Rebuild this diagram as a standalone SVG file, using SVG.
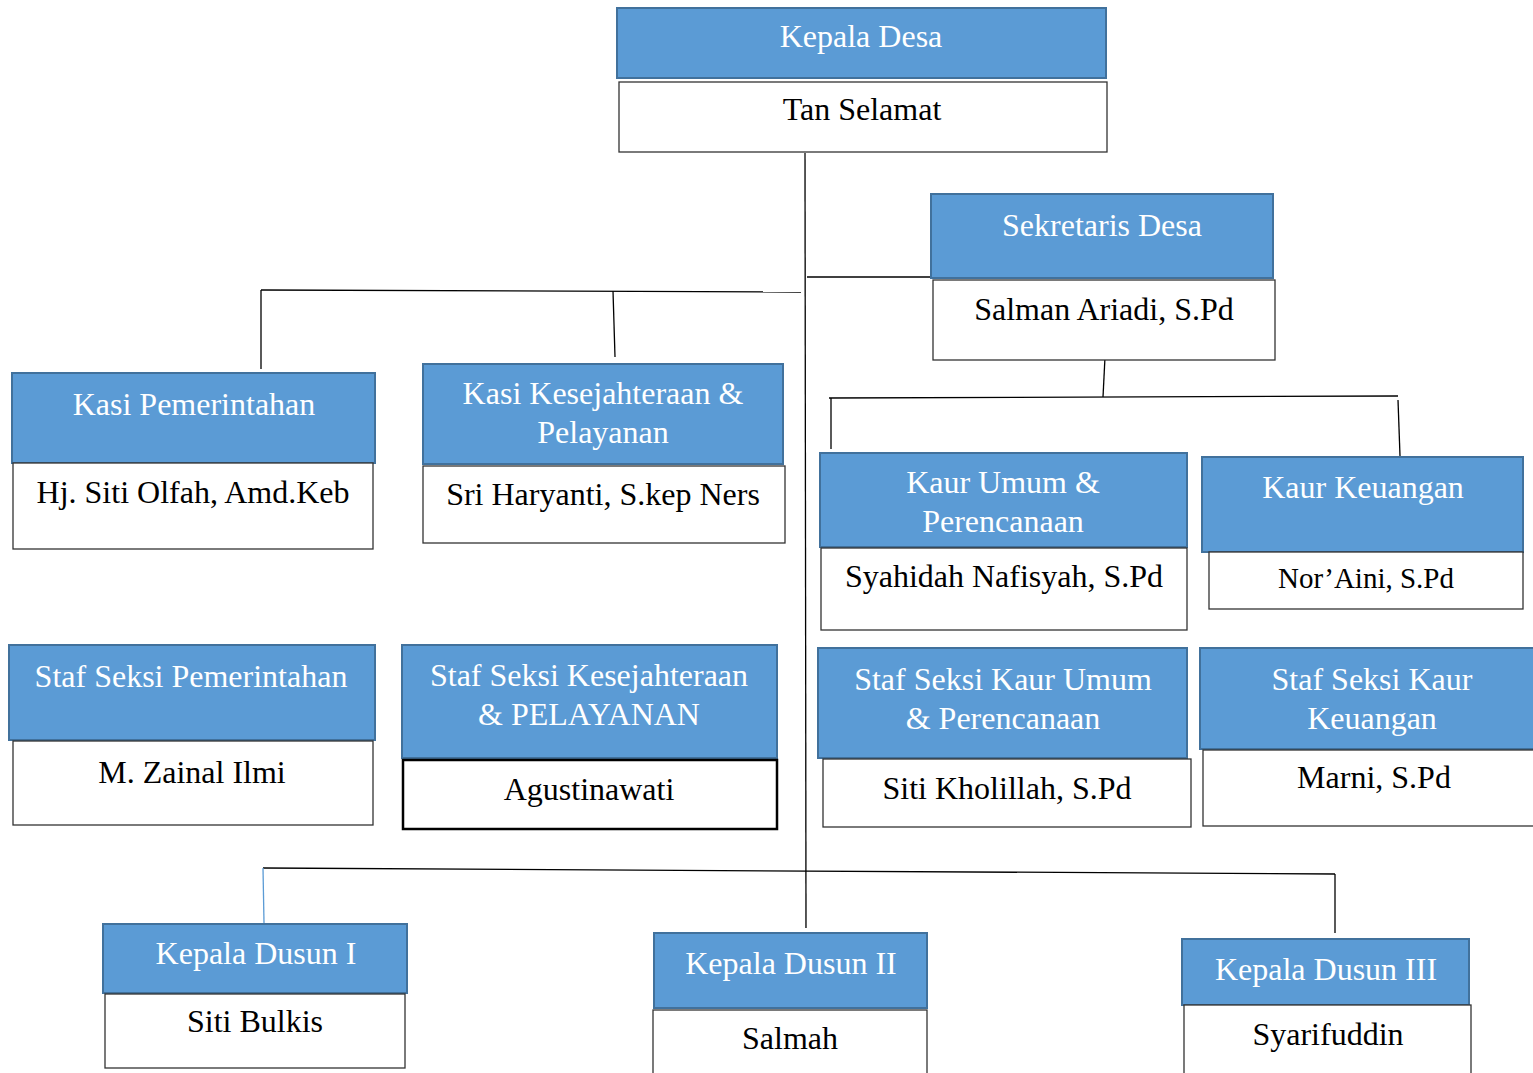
<svg xmlns="http://www.w3.org/2000/svg" width="1533" height="1073" viewBox="0 0 1533 1073">
<style>
.h{fill:#5b9bd5;stroke:#41719c;stroke-width:2}
.n{fill:#fff;stroke:#333;stroke-width:1.3}
.nb{fill:#fff;stroke:#000;stroke-width:2.5}
text{font-family:"Liberation Serif","Times New Roman",serif;font-size:32px;text-anchor:middle}
.t{fill:#fff}
.p{fill:#000}
.c{fill:none;stroke:#000;stroke-width:1.3}
</style>
<rect width="1533" height="1073" fill="#fff"/>
<g id="connectors">
<line class="c" x1="805" y1="153" x2="806" y2="928"/>
<line class="c" x1="807" y1="277" x2="931" y2="277"/>
<line class="c" x1="261" y1="290" x2="801" y2="292"/>
<line class="c" x1="261" y1="290" x2="261" y2="369"/>
<line class="c" x1="613" y1="291" x2="615" y2="357"/>
<line class="c" x1="1105" y1="357" x2="1103" y2="397"/>
<line class="c" x1="829" y1="398" x2="1398" y2="396"/>
<line class="c" x1="831" y1="398" x2="831" y2="449"/>
<line class="c" x1="1398" y1="400" x2="1400" y2="456"/>
<line class="c" x1="263" y1="868" x2="1335" y2="874"/>
<line x1="263" y1="868" x2="264" y2="923" stroke="#5b9bd5" stroke-width="1.3"/>
<line class="c" x1="1335" y1="874" x2="1335" y2="933"/>
</g>
<g id="kepala-desa">
<rect class="h" x="617" y="8" width="489" height="70"/>
<rect class="n" x="619" y="82" width="488" height="70"/>
<text class="t" x="861" y="47">Kepala Desa</text>
<text class="p" x="862" y="120">Tan Selamat</text>
</g>
<g id="sekretaris-desa">
<rect class="h" x="931" y="194" width="342" height="84"/>
<rect class="n" x="933" y="280" width="342" height="80"/>
<text class="t" x="1102" y="236">Sekretaris Desa</text>
<text class="p" x="1104" y="320">Salman Ariadi, S.Pd</text>
</g>
<g id="kasi-pemerintahan">
<rect class="h" x="12" y="373" width="363" height="90"/>
<rect class="n" x="13" y="463" width="360" height="86"/>
<text class="t" x="194" y="415">Kasi Pemerintahan</text>
<text class="p" x="193" y="503">Hj. Siti Olfah, Amd.Keb</text>
</g>
<g id="kasi-kesejahteraan">
<rect class="h" x="423" y="364" width="360" height="100"/>
<rect class="n" x="423" y="466" width="362" height="77"/>
<text class="t" x="603" y="404">Kasi Kesejahteraan &amp;</text>
<text class="t" x="603" y="443">Pelayanan</text>
<text class="p" x="603" y="505">Sri Haryanti, S.kep Ners</text>
</g>
<g id="kaur-umum">
<rect class="h" x="820" y="453" width="367" height="94"/>
<rect class="n" x="821" y="548" width="366" height="82"/>
<text class="t" x="1003" y="493">Kaur Umum &amp;</text>
<text class="t" x="1003" y="532">Perencanaan</text>
<text class="p" x="1004" y="587">Syahidah Nafisyah, S.Pd</text>
</g>
<g id="kaur-keuangan">
<rect class="h" x="1202" y="457" width="321" height="95"/>
<rect class="n" x="1209" y="552" width="314" height="57"/>
<text class="t" x="1363" y="498">Kaur Keuangan</text>
<text class="p" x="1366" y="588" style="font-size:29px">Nor’Aini, S.Pd</text>
</g>
<g id="staf-pemerintahan">
<rect class="h" x="9" y="645" width="366" height="95"/>
<rect class="n" x="13" y="741" width="360" height="84"/>
<text class="t" x="191" y="687">Staf Seksi Pemerintahan</text>
<text class="p" x="192" y="783">M. Zainal Ilmi</text>
</g>
<g id="staf-kesejahteraan">
<rect class="h" x="402" y="645" width="375" height="113"/>
<rect class="nb" x="403" y="760" width="374" height="69"/>
<text class="t" x="589" y="686">Staf Seksi Kesejahteraan</text>
<text class="t" x="589" y="725">&amp; PELAYANAN</text>
<text class="p" x="589" y="800">Agustinawati</text>
</g>
<g id="staf-kaur-umum">
<rect class="h" x="818" y="648" width="369" height="110"/>
<rect class="n" x="823" y="759" width="368" height="68"/>
<text class="t" x="1003" y="690">Staf Seksi Kaur Umum</text>
<text class="t" x="1003" y="729">&amp; Perencanaan</text>
<text class="p" x="1007" y="799">Siti Kholillah, S.Pd</text>
</g>
<g id="staf-kaur-keuangan">
<rect class="h" x="1200" y="648" width="340" height="101"/>
<rect class="n" x="1203" y="750" width="340" height="76"/>
<text class="t" x="1372" y="690">Staf Seksi Kaur</text>
<text class="t" x="1372" y="729">Keuangan</text>
<text class="p" x="1374" y="788">Marni, S.Pd</text>
</g>
<g id="kepala-dusun-1">
<rect class="h" x="103" y="924" width="304" height="69"/>
<rect class="n" x="105" y="994" width="300" height="74"/>
<text class="t" x="256" y="964">Kepala Dusun I</text>
<text class="p" x="255" y="1032">Siti Bulkis</text>
</g>
<g id="kepala-dusun-2">
<rect class="h" x="654" y="933" width="273" height="75"/>
<rect class="n" x="653" y="1010" width="274" height="70"/>
<text class="t" x="791" y="974">Kepala Dusun II</text>
<text class="p" x="790" y="1049">Salmah</text>
</g>
<g id="kepala-dusun-3">
<rect class="h" x="1182" y="939" width="287" height="66"/>
<rect class="n" x="1184" y="1005" width="287" height="75"/>
<text class="t" x="1326" y="980">Kepala Dusun III</text>
<text class="p" x="1328" y="1045">Syarifuddin</text>
</g>
</svg>
